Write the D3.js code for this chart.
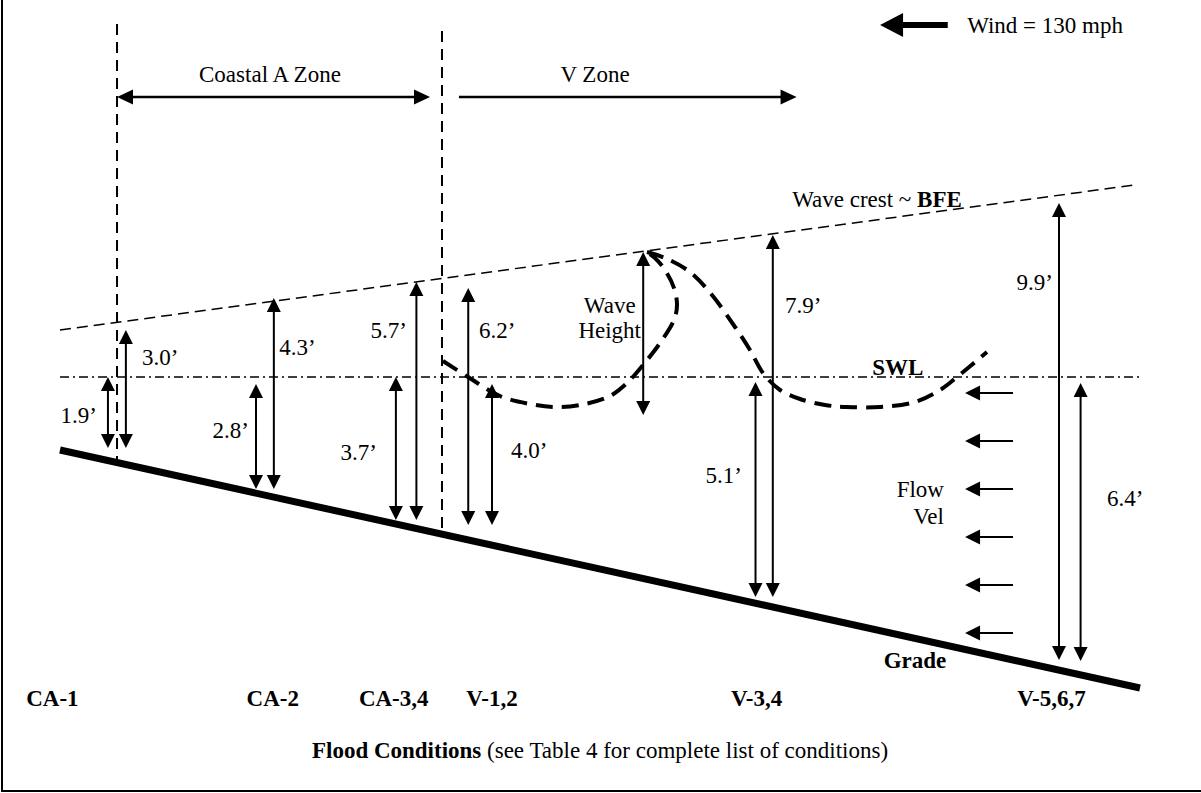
<!DOCTYPE html>
<html><head><meta charset="utf-8">
<script src="https://cdn.jsdelivr.net/npm/d3@7"></script>
<style>
body{margin:0;background:#fff}
svg{display:block}
text{font-family:"Liberation Serif","Times New Roman",serif;font-size:23px;fill:#000}
</style>
</head><body><svg id="chart" width="1201" height="793"></svg>
<script>
// ---------- data (schematic units: station along shore 0..100, elevation relative to SWL) ----------
const gradeStation = [0, 100];
const gradeElev = [-1.825, -7.775];
const crestStation = [0, 99.5];
const crestElev = [1.175, 4.8];
const swlStation = [0, 100];
const swlElev = [0, 0];

const depthLabels  = ["1.9’","3.0’","2.8’","4.3’","3.7’","5.7’","6.2’","4.0’","5.1’","7.9’","9.9’","6.4’"];
const depthStation = [4.44, 6.1, 18.15, 19.8, 31.1, 33.0, 37.8, 40.0, 64.4, 66.0, 92.5, 94.5];
const depthTop     = [0, 1.175, -0.175, 1.975, 0, 2.375, 2.225, -0.175, -0.125, 3.55, 4.35, -0.15];
const depthBottom  = [-1.775, -1.775, -2.8, -2.8, -3.575, -3.575, -3.7, -3.7, -5.5, -5.5, -7.075, -7.1];
const labelStation = [3.43, 7.6, 17.5, 20.3, 29.35, 32.13, 38.8, 41.76, 63.15, 67.13, 91.94, 96.94];
const labelElev    = [-1.15, 0.3, -1.525, 0.55, -2.075, 0.975, 0.975, -2.025, -2.65, 1.6, 2.175, -3.225];
const labelSide    = ["end","start","end","start","end","end","start","start","end","start","end","start"];

const waveHeightStation = 54.0;
const waveHeightTop = 3.125;
const waveHeightBottom = -0.95;

// wave profile (two branches meeting at crest)
const waveFrontStation = [35.46, 37.78, 40.74, 43.52, 46.02, 48.61, 50.93, 52.5, 53.98, 55.56, 56.85, 57.13, 56.85, 56.02, 55.09, 54.35];
const waveFrontElev    = [0.4, 0, -0.475, -0.675, -0.75, -0.675, -0.475, -0.15, 0.3, 0.85, 1.425, 1.8, 2.225, 2.675, 2.975, 3.125];
const waveBackStation  = [54.35, 56.02, 58.33, 60.37, 62.5, 63.89, 65.09, 66.67, 68.52, 70.83, 72.87, 75.93, 79.17, 81.48, 83.06, 85.83];
const waveBackElev     = [3.125, 2.975, 2.625, 2.05, 1.25, 0.675, 0.1, -0.325, -0.55, -0.7, -0.75, -0.75, -0.625, -0.325, 0, 0.625];

const conditionLabels  = ["CA-1", "CA-2", "CA-3,4", "V-1,2", "V-3,4", "V-5,6,7"];
const conditionStation = [-0.7, 19.7, 30.9, 40.0, 64.5, 91.8];
const conditionElev = -8.225;

const zoneLabels = ["Coastal A Zone", "V Zone"];
const zoneLabelStation = [19.44, 49.54];
const zoneStart = [5.28, 36.94];
const zoneEnd = [34.26, 68.2];
const zoneBothHeads = [true, false];
const zoneElev = 7.0;
const zoneLabelElev = 7.375;

const boundaryStation = [5.28, 35.37];
const boundaryTop = [8.825, 8.65];

const flowElev = [-0.4, -1.6, -2.8, -4.0, -5.2, -6.4];
const flowTipStation = 83.8, flowTailStation = 88.24;

const windTipStation = 75.93, windTailStation = 82.2, windElev = 8.8;
const windText = "Wind = 130 mph";

// ---------- scales ----------
const svg = d3.select("#chart");
const W = 1201, H = 793;
const x = d3.scaleLinear().domain([0, 100]).range([60, 1140]);
const y = d3.scaleLinear().domain([0, 1]).range([377, 337]);

svg.append("rect").attr("width", W).attr("height", H).attr("fill", "#fff");

// frame (left & bottom edges visible)
svg.append("line").attr("x1", 2).attr("x2", 2).attr("y1", 0).attr("y2", 792).attr("stroke", "#000").attr("stroke-width", 2);
svg.append("line").attr("x1", 1).attr("x2", W).attr("y1", 791).attr("y2", 791).attr("stroke", "#000").attr("stroke-width", 2);

const gradeAt = s => gradeElev[0] + (gradeElev[1] - gradeElev[0]) * (s - gradeStation[0]) / (gradeStation[1] - gradeStation[0]);

function head(g, tx, ty, dir, len, wid) {
  let pts;
  const h = wid / 2;
  if (dir === "up") pts = [[tx, ty], [tx - h, ty + len], [tx + h, ty + len]];
  if (dir === "down") pts = [[tx, ty], [tx - h, ty - len], [tx + h, ty - len]];
  if (dir === "left") pts = [[tx, ty], [tx + len, ty - h], [tx + len, ty + h]];
  if (dir === "right") pts = [[tx, ty], [tx - len, ty - h], [tx - len, ty + h]];
  g.append("polygon").attr("points", pts.map(p => p.join(",")).join(" ")).attr("fill", "#000");
}

function vArrow(g, s, top, bot) {
  const px = x(s), y1 = y(top), y2 = y(bot);
  g.append("line").attr("x1", px).attr("x2", px).attr("y1", y1 + 8).attr("y2", y2 - 8)
    .attr("stroke", "#000").attr("stroke-width", 2);
  head(g, px, y1, "up", 14, 14);
  head(g, px, y2, "down", 14, 14);
}

const line = d3.line().x(d => x(d[0])).y(d => y(d[1]));

// crest line
svg.append("path").attr("d", line(crestStation.map((s, i) => [s, crestElev[i]])))
  .attr("fill", "none").attr("stroke", "#000").attr("stroke-width", 1.5).attr("stroke-dasharray", "11,6");
// SWL
svg.append("path").attr("d", line(swlStation.map((s, i) => [s, swlElev[i]])))
  .attr("fill", "none").attr("stroke", "#000").attr("stroke-width", 1.5).attr("stroke-dasharray", "9,4,2,4");

// boundaries
boundaryStation.forEach((s, i) => {
  svg.append("line").attr("x1", x(s)).attr("x2", x(s)).attr("y1", y(boundaryTop[i])).attr("y2", y(gradeAt(s)))
    .attr("stroke", "#000").attr("stroke-width", 2).attr("stroke-dasharray", "11,7");
});

// grade
svg.append("path").attr("d", line(gradeStation.map((s, i) => [s, gradeElev[i]])))
  .attr("fill", "none").attr("stroke", "#000").attr("stroke-width", 7);

// wave
const curve = d3.line().x(d => x(d[0])).y(d => y(d[1])).curve(d3.curveCatmullRom.alpha(0.5));
[[waveFrontStation, waveFrontElev], [waveBackStation, waveBackElev]].forEach(([ss, ee]) => {
  svg.append("path").attr("d", curve(ss.map((s, i) => [s, ee[i]])))
    .attr("fill", "none").attr("stroke", "#000").attr("stroke-width", 4).attr("stroke-dasharray", "17,9");
});

// depth arrows & labels
const ga = svg.append("g");
depthLabels.forEach((t, i) => {
  vArrow(ga, depthStation[i], depthTop[i], depthBottom[i]);
  ga.append("text").attr("x", x(labelStation[i])).attr("y", y(labelElev[i]))
    .attr("text-anchor", labelSide[i]).text(t);
});
vArrow(ga, waveHeightStation, waveHeightTop, waveHeightBottom);
ga.append("text").attr("x", x(50.9)).attr("y", y(1.6)).attr("text-anchor", "middle").text("Wave");
ga.append("text").attr("x", x(50.9)).attr("y", y(0.975)).attr("text-anchor", "middle").text("Height");

// zones
zoneLabels.forEach((t, i) => {
  const y0 = y(zoneElev);
  const a = x(zoneStart[i]), b = x(zoneEnd[i]);
  svg.append("line").attr("x1", zoneBothHeads[i] ? a + 10 : a).attr("x2", b - 10).attr("y1", y0).attr("y2", y0)
    .attr("stroke", "#000").attr("stroke-width", 2.5);
  head(svg, b, y0, "right", 16, 15);
  if (zoneBothHeads[i]) head(svg, a, y0, "left", 16, 15);
  svg.append("text").attr("x", x(zoneLabelStation[i])).attr("y", y(zoneLabelElev)).attr("text-anchor", "middle").text(t);
});

// wind
{
  const y0 = y(windElev);
  svg.append("line").attr("x1", x(windTipStation) + 15).attr("x2", x(windTailStation)).attr("y1", y0).attr("y2", y0)
    .attr("stroke", "#000").attr("stroke-width", 6);
  head(svg, x(windTipStation), y0, "left", 23, 24);
  svg.append("text").attr("x", x(84.0)).attr("y", y(8.6)).text(windText);
}

// flow arrows
flowElev.forEach(e => {
  const y0 = y(e);
  svg.append("line").attr("x1", x(flowTipStation) + 8).attr("x2", x(flowTailStation)).attr("y1", y0).attr("y2", y0)
    .attr("stroke", "#000").attr("stroke-width", 2);
  head(svg, x(flowTipStation), y0, "left", 15, 15);
});
svg.append("text").attr("x", x(81.85)).attr("y", y(-3.0)).attr("text-anchor", "end").text("Flow");
svg.append("text").attr("x", x(81.85)).attr("y", y(-3.675)).attr("text-anchor", "end").text("Vel");

// other labels
const crestLbl = svg.append("text").attr("x", x(83.5)).attr("y", y(4.25)).attr("text-anchor", "end");
crestLbl.append("tspan").text("Wave crest ~ ");
crestLbl.append("tspan").attr("font-weight", "bold").text("BFE");
svg.append("text").attr("x", x(75.2)).attr("y", y(0.05)).attr("font-weight", "bold").text("SWL");
svg.append("text").attr("x", x(79.17)).attr("y", y(-7.275)).attr("text-anchor", "middle").attr("font-weight", "bold").text("Grade");

conditionLabels.forEach((t, i) => {
  svg.append("text").attr("x", x(conditionStation[i])).attr("y", y(conditionElev))
    .attr("text-anchor", "middle").attr("font-weight", "bold").text(t);
});

const cap = svg.append("text").attr("x", x(50)).attr("y", y(-9.525)).attr("text-anchor", "middle");
cap.append("tspan").attr("font-weight", "bold").text("Flood Conditions");
cap.append("tspan").text(" (see Table 4 for complete list of conditions)");
</script>
</body></html>
